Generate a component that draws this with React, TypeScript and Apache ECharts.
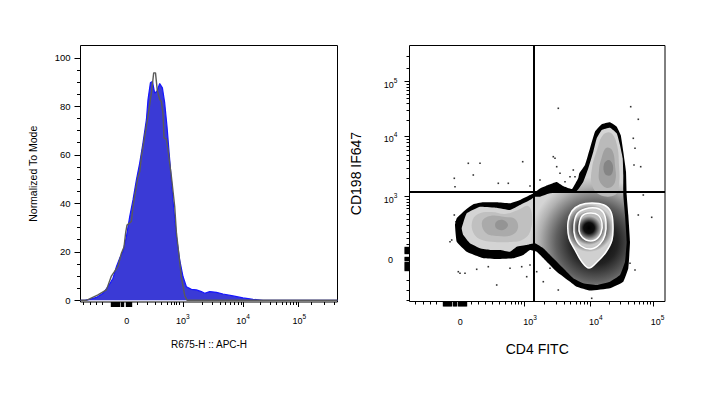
import { useEffect, useRef } from 'react';
import * as echarts from 'echarts';

// ---------- Left panel: histogram (x = display channel, y = % of mode) ----------
const blueX = [0, 5, 9.2, 15.9, 22.5, 27.5, 32.5, 35.9, 39.2, 42.5, 45.9, 49.2, 52.5, 55.9, 59.2, 62.5, 65.9, 67.5, 69.9, 71.9, 74.2, 76.5, 79.2, 81.9, 84.2, 86.5, 89.2, 92.5, 95.9, 99.2, 102.5, 105.9, 110.9, 115.9, 120.9, 124.2, 129.2, 135.9, 142.5, 152.5, 162.5, 172.5, 182.5, 200, 257];
const blueY = [0, 0.1, 0.4, 1.2, 2.9, 5.6, 9.1, 13.9, 17.4, 20.1, 26.3, 34.5, 41.4, 49.7, 56.6, 64.9, 74.5, 82.8, 89.7, 90.3, 85.5, 86.2, 89.4, 87.6, 81.4, 71.7, 58, 41.4, 26.3, 16.7, 9.8, 5.6, 4.5, 4.3, 3.6, 2.9, 3.6, 3.3, 2.6, 1.8, 1, 0.4, 0, 0, 0];
const grayX = [0, 5.9, 17.5, 25.9, 30.9, 37.5, 40.9, 43.5, 45.2, 46.5, 50.9, 52.5, 57.5, 59.2, 60.9, 64.2, 67.5, 70.9, 73.2, 75, 76.9, 77.5, 79.2, 80.9, 82.5, 83.5, 85.9, 87.5, 90.9, 94.2, 95.9, 97.5, 100.9, 104.2, 106.5, 257];
const grayY = [0, 0, 2.2, 4.3, 10, 14, 19.4, 22, 28, 31, 32.5, 38.7, 51, 53, 59.3, 67.6, 75.9, 85.5, 93.8, 93.8, 86.2, 85.5, 82.8, 82, 77, 67, 66.5, 62, 51, 38.7, 28, 22.1, 9.5, 2, 0, 0];

const leftYTicks = [0, 20, 40, 60, 80, 100];
const leftYMinor = [5, 10, 15, 25, 30, 35, 45, 50, 55, 65, 70, 75, 85, 90, 95];
const leftXLabelPos = [46.2, 102.2, 162.5, 218.9];
const leftXLabelText = ['0', '10^3', '10^4', '10^5'];
const leftXMajor = [103.2, 163.2, 217.9];
const leftXMinor = [3.2, 9.5, 15.5, 22.2, 57.2, 67.2, 74.5, 81.2, 86.5, 90.5, 93.9, 96.2, 98.9, 121.3, 131.8, 139.3, 145.1, 149.9, 153.9, 157.4, 160.5, 179.7, 189.3, 196.1, 201.4, 205.8, 209.4, 212.6, 215.4, 230.9, 244.2, 254.2];
const leftXCluster = [30.5, 31.5, 32.5, 33.5, 34.5, 35.5, 36.5, 37.5, 38.5, 41, 42, 43, 45.5, 46.5, 47.5, 48.5, 49.5, 50.3];

// ---------- Right panel: CD4 FITC vs CD198 IF647 (display channels) ----------
const rightXLabelPos = [50.8, 120.5, 186.3, 248];
const rightXLabelText = ['0', '10^3', '10^4', '10^5'];
const rightXMajor = [114.5, 181.2, 243.8];
const rightXMinor = [5.5, 13.8, 20.5, 27.2, 62.2, 68.8, 75.5, 82.8, 89.5, 95.5, 101.5, 105.5, 108.8, 111.5, 134.6, 146.3, 154.7, 161.1, 166.4, 170.9, 174.7, 178.1, 200, 211.1, 218.9, 225, 229.9, 234.1, 237.7, 240.9];
const rightXCluster = [33.8, 34.8, 35.8, 36.8, 37.8, 38.8, 39.8, 40.8, 41.8, 44, 45, 46, 47, 49, 50, 51, 52, 53, 54, 55, 56, 57];
const rightYLabelPos = [217, 162.5, 102, 41.5];
const rightYLabelText = ['10^5', '10^4', '10^3', '0'];
const rightYMajor = [104.8, 164.8, 219.8];
const rightYMinor = [1.5, 11.5, 21.5, 57.7, 63.7, 69.7, 76.3, 82.3, 87.7, 93.1, 96.7, 99.7, 102.1, 122.9, 133.4, 140.9, 146.7, 151.5, 155.5, 159, 162.1, 181.4, 191, 197.9, 203.2, 207.6, 211.3, 214.5, 217.3, 232.8, 245.5];
const rightYCluster = [31.5, 32.5, 33.5, 34.5, 35.5, 36.5, 37.5, 38.5, 39.5, 41.5, 42.5, 43.5, 44.5, 48, 49, 50, 51, 52, 53, 54];

const quadX = 124.2;
const quadY = 109.5;

// population outline (outer black edge) and shaded interior
const outerContour = [[45.5, 76.5], [47.2, 59.8], [57.2, 49.8], [73.8, 43.2], [87.2, 42.5], [103.8, 43.2], [113.8, 46.5], [120.5, 51.5], [127.2, 49.8], [137.2, 39.8], [147.2, 29.8], [160.5, 19.8], [167.2, 14.8], [180.5, 11], [200.5, 13.2], [213.8, 19.8], [218.8, 33.2], [220.5, 59.8], [218.8, 86.5], [217.2, 106.5], [216.5, 129.8], [213.8, 149.8], [211.2, 166.5], [207.2, 174.8], [200.5, 179.2], [192.2, 177.2], [185.5, 169.8], [180.5, 153.2], [175.5, 136.5], [169.8, 128.2], [168.8, 123.5], [162.5, 112.5], [153.5, 115.5], [147.2, 119.5], [138.5, 116.5], [130.5, 113], [124.5, 108.5], [120.5, 106.5], [110.5, 101.5], [100.5, 98.2], [87.2, 99.2], [73.8, 99.2], [63.8, 97.2], [53.8, 89.8], [47.2, 83.2]];
const innerContour = [[52.2, 73.2], [53.8, 66.5], [60.5, 58.2], [70.5, 53.2], [80.5, 51.5], [90.5, 51.5], [100.5, 49.8], [107.2, 54.8], [117.2, 56.5], [125.5, 58.2], [133.8, 53.2], [143.8, 43.2], [153.8, 33.2], [163.8, 23.2], [173.8, 18.2], [187.2, 16.5], [200.5, 19.8], [210.5, 26.5], [215.5, 39.8], [217.2, 59.8], [215.5, 86.5], [213.8, 106.5], [213.8, 126.5], [213.2, 143.2], [210.5, 156.5], [207.2, 168.2], [200.5, 173.8], [192.2, 171.5], [187.2, 163.2], [183.8, 149.8], [178.8, 133.2], [173.8, 119.8], [167.2, 110.5], [153.8, 109.8], [140.5, 108.2], [130.5, 104.8], [125.5, 104.8], [120.5, 101.5], [110.5, 96.5], [100.5, 91.5], [87.2, 93.8], [70.5, 94.8], [57.2, 88.2]];
const leftBlobA = [[62.5, 79.5], [68.5, 87.5], [82.5, 89.5], [95.5, 87.5], [108.5, 91.5], [118.5, 95.5], [122.5, 86.5], [120.5, 69.5], [112.5, 61.5], [100.5, 59.5], [85.5, 59.5], [72.5, 61.5], [64.5, 67.5]];
const leftBlobB = [[72.5, 79.5], [80.5, 85.5], [95.5, 84.5], [105.5, 82.5], [108.5, 73.5], [102.5, 66.5], [88.5, 65.5], [76.5, 68.5]];
const leftBlobC = [[86.5, 79.5], [93.5, 81.5], [98.5, 76.5], [93.5, 71.5], [86.5, 73.5]];
const armA = [[187.5, 151.5], [193.5, 166.5], [201.5, 168.5], [207.5, 156.5], [209.5, 136.5], [209.5, 116.5], [205.5, 106.5], [190.5, 106.5], [182.5, 116.5], [182.5, 133.5]];
const armB = [[191.5, 141.5], [196.5, 153.5], [202.5, 151.5], [205.5, 136.5], [205.5, 119.5], [198.5, 113.5], [190.5, 119.5], [189.5, 131.5]];
const armC = [[194.5, 137.5], [199.5, 141.5], [203.5, 135.5], [201.5, 126.5], [195.5, 127.5]];
const ring1 = [[158.5, 79.5], [162.5, 90.5], [170.5, 96.5], [182.5, 98.5], [194.5, 96.5], [201.5, 89.5], [203.5, 76.5], [202.5, 61.5], [196.5, 49.5], [187.5, 39.5], [179.5, 33.5], [172.5, 39.5], [165.5, 51.5], [159.5, 63.5]];
const ring2 = [[164.5, 76.5], [167.5, 87.5], [175.5, 92.5], [186.5, 93.5], [193.5, 89.5], [196.5, 79.5], [195.5, 66.5], [190.5, 57.5], [181.5, 52.5], [171.5, 55.5], [165.5, 64.5]];
const ring3 = [[169.5, 75.5], [172.5, 85.5], [180.5, 88.5], [188.5, 86.5], [192.5, 78.5], [191.5, 68.5], [185.5, 61.5], [176.5, 61.5], [170.5, 67.5]];
const mainPeak = [179.5, 73.5];
const mainShadeCenter = [185.5, 59.5];

const dotsX = [44.8, 58.8, 70.5, 63.8, 113.2, 98.8, 120.5, 148.8, 143.8, 147.2, 160.5, 163.8, 221.2, 228.8, 223.8, 224.5, 231.2, 242.2, 40.5, 50.5, 55.5, 67.2, 87.2, 112.2, 117.2, 148.8, 182.2, 225.5, 46.5, 45.5, 88.8, 130.5, 145.5, 150.5, 155.5, 165.5, 225.5, 48.8, 78.8, 100.5, 120.5, 127.2, 133.8, 140.5, 233.8, 228.8, 44.8, 42.2, 220.5];
const dotsY = [123.2, 138.2, 138.2, 126.5, 139.8, 118.2, 115.5, 193.2, 144.8, 134.8, 124.8, 131.5, 194.8, 182.2, 163.2, 136.5, 134.8, 84.2, 59.8, 28.2, 28.2, 32.2, 16.5, 34.8, 24.8, 11.5, 3.2, 31.5, 79.8, 114.8, 118.2, 121.5, 143.2, 128.2, 119.8, 124.8, 153.2, 29.8, 34.8, 33.2, 36.5, 29.8, 19.8, 33.2, 106.5, 86.5, 86.5, 61.5, 38.2];

const FONT = '"Liberation Sans", Arial, Helvetica, sans-serif';

function supText(t: string) {
  if (t.indexOf('^') < 0) return `{b|${t}}`;
  const [base, exp] = t.split('^');
  return `{b|${base}}{s|${exp}}`;
}
function fmt(pos: number[], texts: string[]) {
  return (v: number) => {
    let best = 0;
    let d = Infinity;
    pos.forEach((p, i) => {
      const dd = Math.abs(p - v);
      if (dd < d) { d = dd; best = i; }
    });
    return supText(texts[best]);
  };
}
const rich = {
  b: { fontSize: 9, lineHeight: 16, fontFamily: FONT, color: '#000' },
  s: { fontSize: 6.5, padding: [0, 0, 9, 0], fontFamily: FONT, color: '#000' },
};

function tickAxis(gridIndex: number, min: number, max: number, values: number[], length: number, position: string, width = 1) {
  return {
    type: 'value', gridIndex, min, max, position, offset: 0,
    axisLine: { show: false, onZero: false },
    splitLine: { show: false },
    axisLabel: { show: false },
    axisTick: { show: true, customValues: values, length, inside: false, lineStyle: { color: '#000', width } },
  };
}

const zip = (a: number[], b: number[]) => a.map((v, i) => [v, b[i]]);

export default function App() {
  const ref = useRef<HTMLDivElement>(null);
  useEffect(() => {
    const chart = echarts.init(ref.current!, undefined, { renderer: 'svg' });
    const LX = [0, 257];
    const LY = [-0.7, 105.1];
    const RX = [0, 255.5];
    const RY = [0, 256];
    const option: any = {
      animation: false,
      backgroundColor: '#fff',
      grid: [
        { left: 80.5, top: 45.5, width: 257, height: 256.5, show: true, borderColor: '#000', borderWidth: 1, backgroundColor: 'transparent', outerBoundsMode: 'none' },
        { left: 409.5, top: 45.5, width: 255.5, height: 256, show: true, borderColor: '#000', borderWidth: 1, backgroundColor: 'transparent', outerBoundsMode: 'none' },
      ],
      xAxis: [
        {
          type: 'value', gridIndex: 0, min: LX[0], max: LX[1], position: 'bottom',
          axisLine: { show: false, onZero: false }, axisTick: { show: false }, splitLine: { show: false },
          axisLabel: { customValues: leftXLabelPos, formatter: fmt(leftXLabelPos, leftXLabelText), rich, margin: 11 },
          name: 'R675-H :: APC-H', nameLocation: 'middle', nameGap: 37, nameMoveOverlap: false,
          nameTextStyle: { fontSize: 10, color: '#000', fontFamily: FONT },
        },
        tickAxis(0, LX[0], LX[1], leftXMajor, 5, 'bottom'),
        tickAxis(0, LX[0], LX[1], leftXMinor, 3, 'bottom'),
        tickAxis(0, LX[0], LX[1], leftXCluster, 5, 'bottom', 1.4),
        {
          type: 'value', gridIndex: 1, min: RX[0], max: RX[1], position: 'bottom',
          axisLine: { show: false, onZero: false }, axisTick: { show: false }, splitLine: { show: false },
          axisLabel: { customValues: rightXLabelPos, formatter: fmt(rightXLabelPos, rightXLabelText), rich, margin: 12.5 },
          name: 'CD4 FITC', nameLocation: 'middle', nameGap: 40, nameMoveOverlap: false,
          nameTextStyle: { fontSize: 14, color: '#000', fontFamily: FONT },
        },
        tickAxis(1, RX[0], RX[1], rightXMajor, 5, 'bottom'),
        tickAxis(1, RX[0], RX[1], rightXMinor, 3, 'bottom'),
        tickAxis(1, RX[0], RX[1], rightXCluster, 5, 'bottom', 1.4),
      ],
      yAxis: [
        {
          type: 'value', gridIndex: 0, min: LY[0], max: LY[1], position: 'left',
          axisLine: { show: false, onZero: false }, splitLine: { show: false },
          axisTick: { show: true, customValues: leftYTicks, length: 6, lineStyle: { color: '#000' } },
          axisLabel: { customValues: leftYTicks, fontSize: 9.5, color: '#000', fontFamily: FONT, margin: 10 },
          name: 'Normalized To Mode', nameLocation: 'middle', nameRotate: 90, nameGap: 42, nameMoveOverlap: false,
          nameTextStyle: { fontSize: 10.5, color: '#000', fontFamily: FONT },
        },
        tickAxis(0, LY[0], LY[1], leftYMinor, 3.5, 'left'),
        {
          type: 'value', gridIndex: 1, min: RY[0], max: RY[1], position: 'left',
          axisLine: { show: false, onZero: false }, axisTick: { show: false }, splitLine: { show: false },
          axisLabel: { customValues: rightYLabelPos, formatter: fmt(rightYLabelPos, rightYLabelText), rich, align: 'center', margin: 19 },
          name: 'CD198 IF647', nameLocation: 'middle', nameRotate: 90, nameGap: 47, nameMoveOverlap: false,
          nameTextStyle: { fontSize: 14, color: '#000', fontFamily: FONT },
        },
        tickAxis(1, RY[0], RY[1], rightYMajor, 5, 'left'),
        tickAxis(1, RY[0], RY[1], rightYMinor, 3, 'left'),
        tickAxis(1, RY[0], RY[1], rightYCluster, 5, 'left', 1.4),
      ],
      series: [
        {
          name: 'sample', type: 'line', xAxisIndex: 0, yAxisIndex: 0, data: zip(blueX, blueY),
          showSymbol: false, symbol: 'none', z: 2,
          lineStyle: { color: '#1616ff', width: 1.2 },
          areaStyle: { color: '#3a3ad6', opacity: 1 },
        },
        {
          name: 'control', type: 'line', xAxisIndex: 0, yAxisIndex: 0, data: zip(grayX, grayY),
          showSymbol: false, symbol: 'none', z: 3,
          lineStyle: { color: '#5a5a5a', width: 1.4 },
        },
        {
          name: 'contours', type: 'custom', xAxisIndex: 4, yAxisIndex: 2, data: [[0, 0]], z: 2, clip: true,
          renderItem: (_p: any, api: any) => {
            const P = (arr: number[][]) => arr.map((q) => api.coord(q));
            const unit = api.size([1, 1])[0];
            const pk = api.coord(mainPeak);
            const sc = api.coord(mainShadeCenter);
            const RG = (c: number[], r: number, stops: [number, string][]) =>
              new echarts.graphic.RadialGradient(c[0], c[1], r * unit, stops.map(([offset, color]) => ({ offset, color })), true);
            const poly = (pts: number[][], style: any, smooth = 0.2) => ({ type: 'polygon', shape: { points: P(pts), smooth }, style });
            return {
              type: 'group',
              children: [
                poly(outerContour, { fill: '#000' }, 0.1),
                poly(innerContour, { fill: RG(sc, 65, [[0, '#000'], [0.35, '#222'], [0.6, '#606060'], [0.85, '#b0b0b0'], [1, '#d4d4d4']]) }, 0.1),
                poly(leftBlobA, { fill: '#c0c0c0' }, 0.4),
                poly(leftBlobB, { fill: '#aaaaaa' }, 0.4),
                poly(leftBlobC, { fill: '#949494' }, 0.4),
                poly(armA, { fill: '#bababa' }, 0.4),
                poly(armB, { fill: '#a0a0a0' }, 0.4),
                poly(armC, { fill: '#858585' }, 0.4),
                poly(ring1, { fill: RG(pk, 24, [[0, '#000'], [0.55, '#1a1a1a'], [1, '#d0d0d0']]), stroke: '#fff', lineWidth: 1.5 }, 0.35),
                poly(ring2, { fill: RG(pk, 17, [[0, '#000'], [0.6, '#222'], [1, '#c8c8c8']]), stroke: '#fff', lineWidth: 1.5 }, 0.35),
                poly(ring3, { fill: RG(pk, 12, [[0, '#000'], [0.45, '#0d0d0d'], [1, '#b8b8b8']]), stroke: '#fff', lineWidth: 1.5 }, 0.35),
              ],
            };
          },
        },
        {
          name: 'events', type: 'scatter', xAxisIndex: 4, yAxisIndex: 2, data: zip(dotsX, dotsY),
          symbol: 'rect', symbolSize: 1.6, itemStyle: { color: '#000' }, z: 3, silent: true,
          markLine: {
            silent: true, symbol: ['none', 'none'], label: { show: false }, z: 5,
            lineStyle: { color: '#000', width: 2, type: 'solid' },
            data: [{ xAxis: quadX }, { yAxis: quadY }],
          },
        },
      ],
    };
    chart.setOption(option);
    return () => chart.dispose();
  }, []);
  return <div ref={ref} style={{ position: 'absolute', left: 0, top: 0, width: 713, height: 398, background: '#fff' }} />;
}
